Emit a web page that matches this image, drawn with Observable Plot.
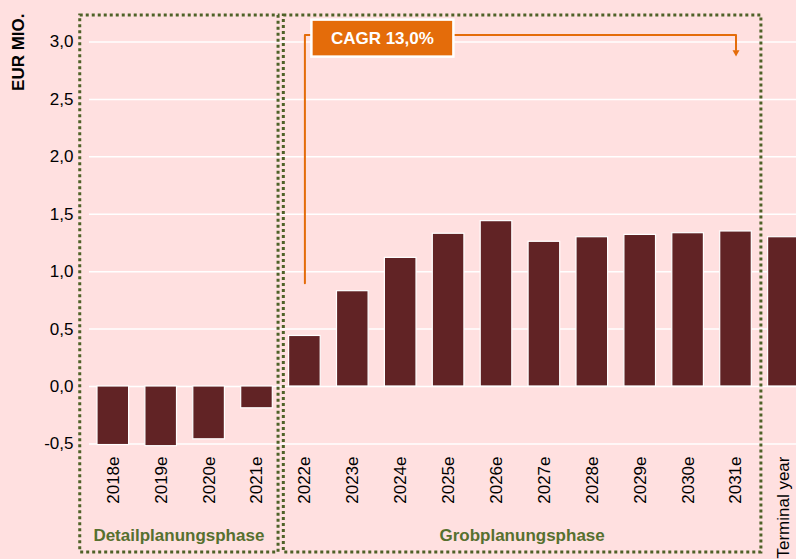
<!DOCTYPE html>
<html><head><meta charset="utf-8">
<script src="https://cdn.jsdelivr.net/npm/d3@7"></script>
<script src="https://cdn.jsdelivr.net/npm/@observablehq/plot@0.6"></script>
<style>html,body{margin:0;padding:0;background:#FFE0E0;} #chart svg{display:block}</style>
</head><body><div id="chart"></div>
<script>
const categories = ["2018e","2019e","2020e","2021e","2022e","2023e","2024e","2025e","2026e","2027e","2028e","2029e","2030e","2031e","Terminal year"];
const values = [-0.51,-0.52,-0.46,-0.19,0.44,0.83,1.12,1.33,1.44,1.26,1.30,1.32,1.335,1.35,1.30];
const yTicks = [-0.5,0,0.5,1,1.5,2,2.5,3];
const phaseLabels = ["Detailplanungsphase","Grobplanungsphase"];
const phaseFirst = ["2018e","2022e"];
const phaseLast = ["2021e","2031e"];
const cagrLabel = "CAGR 13,0%";
const cagrFrom = "2022e", cagrTo = "2031e";
const cagrStartValue = 0.9, cagrLevel = 3.06, cagrArrowValue = 2.91;
const yTitle = "EUR MIO.";

const BG = "#FFE0E0", BAR = "#612325", ORANGE = "#E46C0A", OLIVE = "#4F6228", OLIVE_TEXT = "#56702F";
const font = "'Liberation Sans', Arial, Helvetica, sans-serif";
const X_RANGE = [80.7, 815.5];

const data = categories.map((c, i) => ({category: c, value: values[i]}));
const cagrPath = [
  {x: cagrFrom, y: cagrStartValue},
  {x: cagrFrom, y: cagrLevel},
  {x: cagrTo, y: cagrLevel},
  {x: cagrTo, y: cagrArrowValue + 0.02}
];

const chart = Plot.plot({
  width: 796, height: 559,
  marginLeft: 89, marginRight: 0, marginTop: 0, marginBottom: 113,
  style: {background: BG, fontFamily: font, fontSize: "17px", color: "#000"},
  x: {domain: categories, range: X_RANGE, padding: 0.34, align: 0.5, round: false},
  y: {domain: [-0.5, 3], range: [443.4, 41.5]},
  marks: [
    Plot.gridY(yTicks, {stroke: "#fff", strokeOpacity: 1, strokeWidth: 1.5}),
    Plot.barY(data, {x: "category", y: "value", fill: BAR, stroke: "#fff", strokeWidth: 1.2}),
    Plot.line(cagrPath, {x: "x", y: "y", stroke: ORANGE, strokeWidth: 2}),
    Plot.dot([{x: cagrTo, y: cagrArrowValue}], {x: "x", y: "y", symbol: "triangle", r: 2.6, rotate: 180, fill: ORANGE, stroke: null}),
    Plot.axisY(yTicks, {tickSize: 0, tickPadding: 16, tickFormat: d => d.toFixed(1).replace(".", ","), label: null, fill: "#000"}),
    Plot.axisX({tickRotate: -90, tickSize: 0, tickPadding: 10, label: null, fill: "#000"}),
    Plot.text([yTitle], {frameAnchor: "top-left", rotate: -90, textAnchor: "end", lineAnchor: "middle", dx: -70.5, dy: 13, fontWeight: "bold", fontSize: 17, fill: "#000"})
  ]
});
document.getElementById("chart").appendChild(chart);

// annotations positioned via the chart's scales
const sx = chart.scale("x"), sy = chart.scale("y");
let X, Y, bw, step;
if (sx && typeof sx.apply === "function") {
  X = c => sx.apply(c); bw = sx.bandwidth; step = sx.step;
} else {
  const b = d3.scaleBand().domain(categories).range(X_RANGE).padding(0.34).align(0.5);
  X = c => b(c); bw = b.bandwidth(); step = b.step();
}
if (sy && typeof sy.apply === "function") Y = v => sy.apply(v);
else { const l = d3.scaleLinear().domain([-0.5, 3]).range([443.4, 41.5]); Y = v => l(v); }

const svg = d3.select(chart);
const g = svg.append("g").attr("font-family", font);
const boxTop = Y(3.23), boxBottom = Y(-1.445);
const offsets = [[0.36, 0.12], [0.11, 0.2]];
phaseLabels.forEach((lab, i) => {
  const l = X(phaseFirst[i]) - offsets[i][0] * step;
  const r = X(phaseLast[i]) + bw + offsets[i][1] * step;
  g.append("rect").attr("x", l).attr("y", boxTop).attr("width", r - l).attr("height", boxBottom - boxTop)
    .attr("fill", "none").attr("stroke", OLIVE).attr("stroke-width", 3).attr("stroke-dasharray", "3 3");
  g.append("text").attr("x", (l + r) / 2).attr("y", boxBottom - 11).attr("text-anchor", "middle")
    .attr("font-weight", "bold").attr("font-size", 17).attr("fill", OLIVE_TEXT).text(lab);
});

const cx = X(cagrFrom) + bw / 2;
const cy = Y(cagrLevel) + 3.5;
const bx = cx + 7, bwid = 142, bh = 37;
g.append("rect").attr("x", bx).attr("y", cy - bh / 2).attr("width", bwid).attr("height", bh)
  .attr("fill", ORANGE).attr("stroke", "#fff").attr("stroke-width", 2.5);
g.append("text").attr("x", bx + bwid / 2).attr("y", cy).attr("dy", "0.35em").attr("text-anchor", "middle")
  .attr("font-weight", "bold").attr("font-size", 17).attr("fill", "#fff").text(cagrLabel);
</script></body></html>
